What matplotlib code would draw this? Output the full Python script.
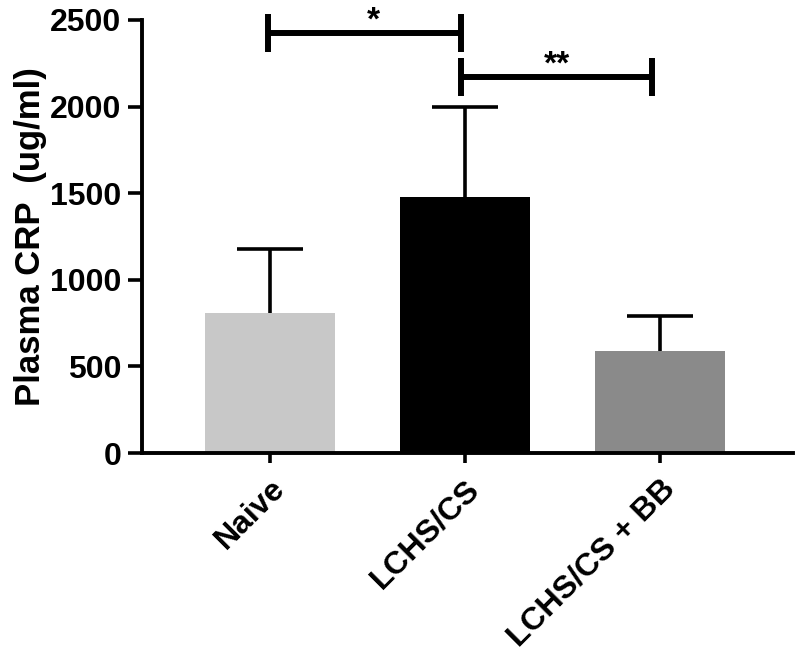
import matplotlib
matplotlib.use("Agg")
import matplotlib.pyplot as plt

groups = ["Naive", "LCHS/CS", "LCHS/CS + BB"]
means = [810, 1480, 590]
errors = [370, 520, 200]
colors = ["#c8c8c8", "#000000", "#8a8a8a"]
yticks = [0, 500, 1000, 1500, 2000, 2500]

# significance brackets: (left x, right x, height, tick half-height, label, label x)
brackets = [(-0.01, 0.98, 2425, 110, "*", 0.53),
            (0.98, 1.96, 2170, 110, "**", 1.47)]

plt.rcParams["font.family"] = ["Liberation Sans", "DejaVu Sans"]
plt.rcParams["font.weight"] = "bold"

fig = plt.figure(figsize=(8, 6.6), dpi=100)
ax = fig.add_axes([0.1775, 0.3136, 0.8135, 0.6561])

x = list(range(len(groups)))
ax.bar(x, means, width=0.667, color=colors, zorder=2)
eb = ax.errorbar(x, means, yerr=[[0] * len(errors), errors], fmt="none",
                 ecolor="black", elinewidth=2.6, capsize=23.5, capthick=2.6,
                 zorder=1)
# only the upper cap is drawn
eb[1][0].set_visible(False)

for x0, x1, h, d, label, lx in brackets:
    ax.plot([x0, x1], [h, h], color="black", lw=4.3, clip_on=False,
            solid_capstyle="butt")
    ax.plot([x0, x0], [h - d, h + d], color="black", lw=4.3, clip_on=False,
            solid_capstyle="butt")
    ax.plot([x1, x1], [h - d, h + d], color="black", lw=4.3, clip_on=False,
            solid_capstyle="butt")
    ax.text(lx, h + 20, label, ha="center", va="baseline",
            fontsize=24, fontweight="bold", clip_on=False)

ax.set_xlim(-0.656, 2.682)
ax.set_ylim(0, 2500)
ax.set_yticks(yticks)
ax.set_yticklabels([str(t) for t in yticks], fontsize=23, fontweight="bold")
ax.set_xticks(x)
ax.set_xticklabels(groups, rotation=45, ha="right", rotation_mode="anchor",
                   fontsize=23, fontweight="bold")
ax.set_ylabel("Plasma CRP  (ug/ml)", fontsize=25, fontweight="bold", labelpad=2)

for side in ["top", "right"]:
    ax.spines[side].set_visible(False)
for side in ["left", "bottom"]:
    ax.spines[side].set_linewidth(2.8)
ax.tick_params(axis="y", length=10, width=2.6, pad=5)
ax.tick_params(axis="x", length=7, width=2.6, pad=8)

fig.savefig("out.png", dpi=100)
